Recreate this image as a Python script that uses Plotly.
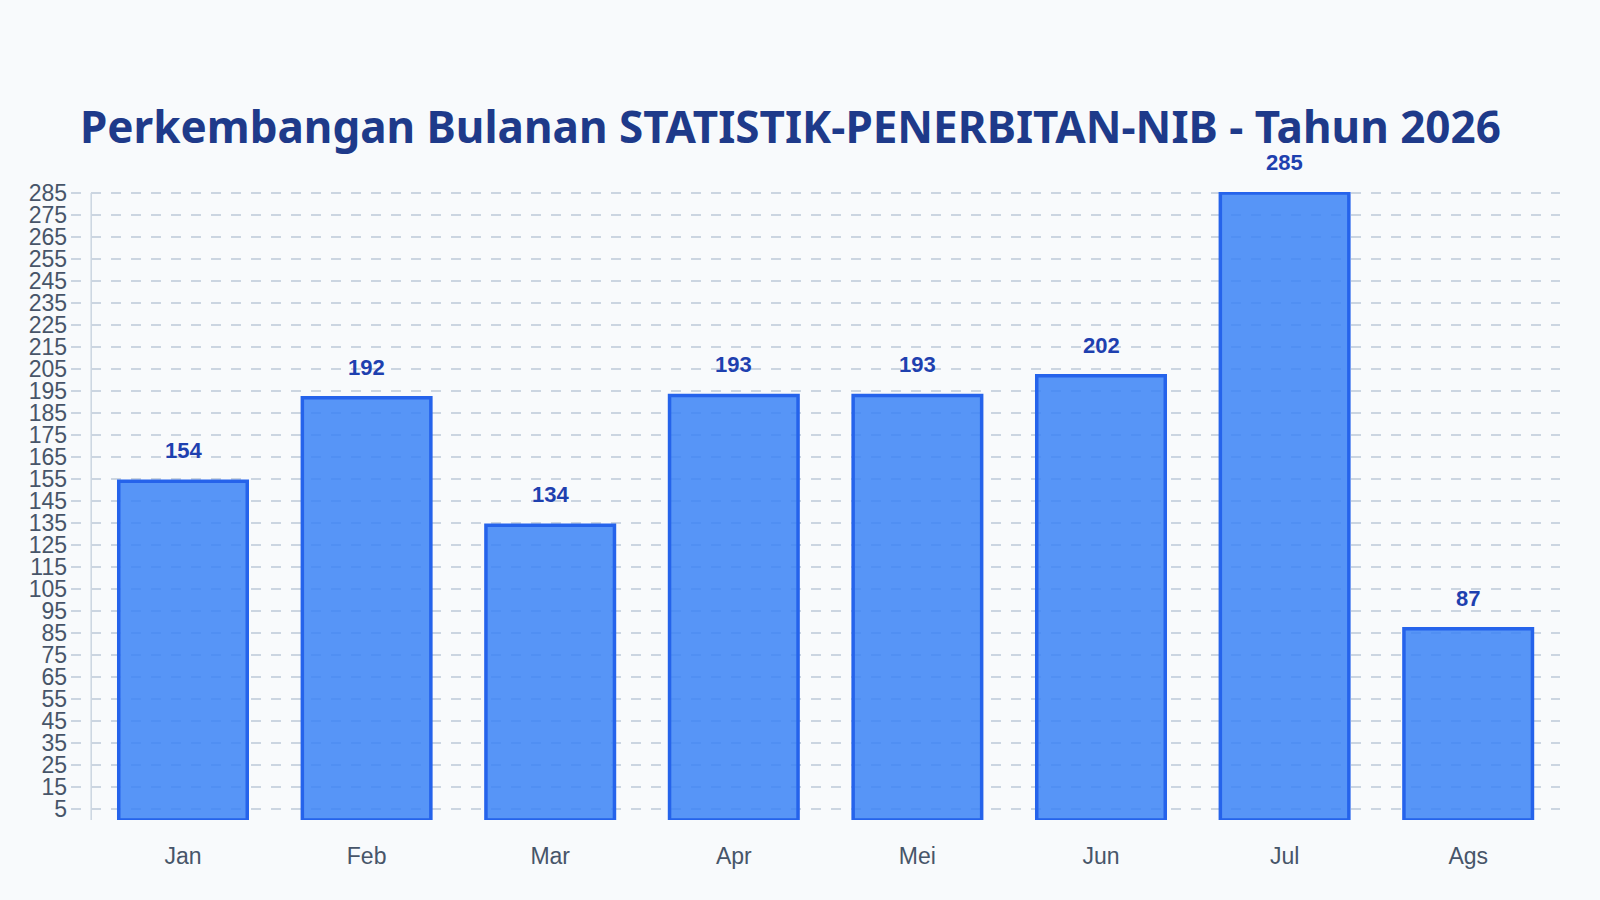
import plotly.graph_objects as go

# data
bulan = ['Jan', 'Feb', 'Mar', 'Apr', 'Mei', 'Jun', 'Jul', 'Ags']
jumlah = [154, 192, 134, 193, 193, 202, 285, 87]
y_ticks = list(range(5, 286, 10))

bg = '#f8fafc'
grid = '#cbd5e1'

fig = go.Figure()

fig.add_trace(go.Bar(
    x=bulan,
    y=jumlah,
    marker=dict(color='rgba(59,130,246,0.85)', line=dict(color='#2563eb', width=3.5)),
    showlegend=False,
))

# value labels above the bars
for b, v in zip(bulan, jumlah):
    fig.add_annotation(
        x=b, y=v, text=str(v), showarrow=False,
        yanchor='bottom', yshift=16,
        font=dict(family='Liberation Sans, Arial', size=22, color='#1e40af', weight='bold'),
    )

# axis line at the left edge of the first category
fig.add_shape(type='line', xref='x', yref='y', x0=-0.5, x1=-0.5, y0=0, y1=285,
              line=dict(color=grid, width=1.5), layer='above')

fig.update_layout(
    width=1600, height=900,
    paper_bgcolor=bg, plot_bgcolor=bg,
    margin=dict(l=71, r=40, t=192, b=80),
    bargap=0.3,
    title=dict(
        text='Perkembangan Bulanan STATISTIK-PENERBITAN-NIB - Tahun 2026',
        x=0.494, xanchor='center', y=0.858, yanchor='middle',
        font=dict(family='Noto Sans', size=44, color='#1e3a8a', weight='bold'),
    ),
    xaxis=dict(
        range=[-0.61, 7.5], showgrid=False, showline=False, zeroline=False,
        ticks='', ticklabelstandoff=20,
        tickfont=dict(family='Liberation Sans, Arial', size=23, color='#475569'),
    ),
    yaxis=dict(
        range=[0, 285.5], tickvals=y_ticks, showline=False, zeroline=False,
        showgrid=True, gridcolor=grid, gridwidth=1.5, griddash='10px,10px',
        ticks='', ticklabelstandoff=3,
        tickfont=dict(family='Liberation Sans, Arial', size=23, color='#475569'),
    ),
)

# page without the default body margin, so the figure fills the window
fig.write_html('out.html', config={'displayModeBar': False},
               post_script="document.body.style.margin='0';"
                           "document.body.style.background='#f8fafc';")
